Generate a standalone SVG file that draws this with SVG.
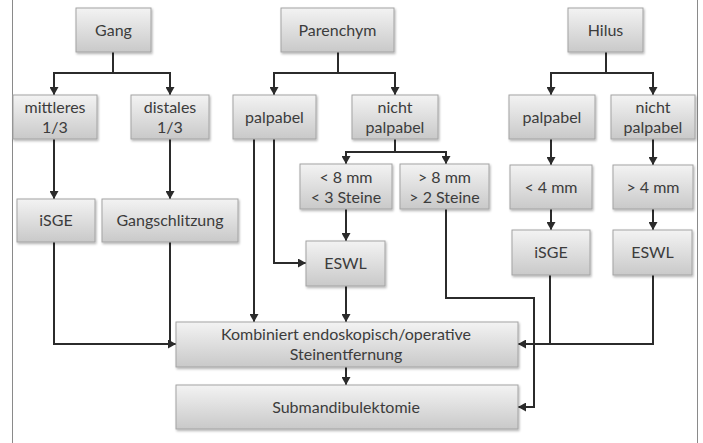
<svg xmlns="http://www.w3.org/2000/svg" width="703" height="443" viewBox="0 0 703 443">
<defs>
<linearGradient id="g" x1="0" y1="0" x2="0" y2="1">
<stop offset="0" stop-color="#f3f3f3"/>
<stop offset="1" stop-color="#c9c9c9"/>
</linearGradient>
<filter id="sh" x="-10%" y="-10%" width="130%" height="140%">
<feDropShadow dx="1" dy="1.5" stdDeviation="1" flood-color="#000" flood-opacity="0.3"/>
</filter>
<marker id="ar" markerUnits="userSpaceOnUse" markerWidth="9" markerHeight="9" refX="8" refY="4.5" orient="auto">
<path d="M0,0 L8,4.5 L0,9 z" fill="#2b2b2b"/>
</marker>
<style>
.b{fill:url(#g);stroke:#a3a3a3;stroke-width:1;filter:url(#sh)}
.t{font-family:Lato,"Open Sans","Liberation Sans",sans-serif;font-size:16px;fill:#3c3c3c;text-anchor:middle}
.c path{fill:none;stroke:#2b2b2b;stroke-width:2}
.c path.a{marker-end:url(#ar)}
.fr{stroke:#8a8a8a;stroke-width:1}
</style>
</defs>
<rect width="703" height="443" fill="#fff"/>
<line class="fr" x1="12.5" y1="0" x2="12.5" y2="443"/>
<line class="fr" x1="697.5" y1="0" x2="697.5" y2="443"/>

<g class="c" id="connectors">
<path class="a" d="M113,52 V73 H54 V95"/>
<path class="a" d="M113,73 H170 V95"/>
<path class="a" d="M338,52 V73 H274 V95"/>
<path class="a" d="M338,73 H395 V95"/>
<path class="a" d="M606,52 V73 H551 V95"/>
<path class="a" d="M606,73 H653 V95"/>
<path class="a" d="M395,139 V152 H346 V164"/>
<path class="a" d="M395,152 H446 V164"/>
<path class="a" d="M54,139 V199"/>
<path class="a" d="M170,139 V199"/>
<path class="a" d="M346,209 V241"/>
<path class="a" d="M274,139 V263 H306"/>
<path class="a" d="M254,139 V322"/>
<path class="a" d="M346,286 V322"/>
<path class="a" d="M54,242 V344 H176"/>
<path d="M170,242 V344"/>
<path class="a" d="M446,209 V298 H534 V407 H518"/>
<path class="a" d="M551,139 V165"/>
<path class="a" d="M551,209 V230"/>
<path class="a" d="M653,139 V165"/>
<path class="a" d="M653,209 V230"/>
<path d="M550,275 V344"/>
<path class="a" d="M653,275 V344 H518"/>
<path class="a" d="M346,367 V385"/>
</g>

<g id="gang"><rect class="b" x="76" y="8" width="75" height="44"/><text class="t" x="113.5" y="36">Gang</text></g>
<g id="parenchym"><rect class="b" x="281" y="8" width="113" height="44"/><text class="t" x="337.5" y="36">Parenchym</text></g>
<g id="hilus"><rect class="b" x="568" y="8" width="75" height="44"/><text class="t" x="605.5" y="36">Hilus</text></g>

<g id="mittleres"><rect class="b" x="13" y="95" width="84" height="44"/><text class="t" x="55" y="113">mittleres</text><text class="t" x="55" y="133">1/3</text></g>
<g id="distales"><rect class="b" x="131" y="95" width="78" height="44"/><text class="t" x="170" y="113">distales</text><text class="t" x="170" y="133">1/3</text></g>
<g id="palpabel1"><rect class="b" x="233" y="95" width="83" height="44"/><text class="t" x="274.5" y="123">palpabel</text></g>
<g id="nichtpalpabel1"><rect class="b" x="352" y="95" width="86" height="44"/><text class="t" x="395" y="113">nicht</text><text class="t" x="395" y="133">palpabel</text></g>
<g id="palpabel2"><rect class="b" x="509" y="95" width="86" height="44"/><text class="t" x="552" y="123">palpabel</text></g>
<g id="nichtpalpabel2"><rect class="b" x="611" y="95" width="84" height="44"/><text class="t" x="653" y="113">nicht</text><text class="t" x="653" y="133">palpabel</text></g>

<g id="lt8"><rect class="b" x="300" y="164" width="92" height="45"/><text class="t" x="346" y="183">&lt; 8 mm</text><text class="t" x="346" y="203">&lt; 3 Steine</text></g>
<g id="gt8"><rect class="b" x="400" y="164" width="89" height="45"/><text class="t" x="444.5" y="183">&gt; 8 mm</text><text class="t" x="444.5" y="203">&gt; 2 Steine</text></g>
<g id="lt4"><rect class="b" x="510" y="165" width="82" height="44"/><text class="t" x="551" y="193">&lt; 4 mm</text></g>
<g id="gt4"><rect class="b" x="613" y="165" width="80" height="44"/><text class="t" x="653" y="193">&gt; 4 mm</text></g>

<g id="isge1"><rect class="b" x="17" y="199" width="78" height="43"/><text class="t" x="56" y="226">iSGE</text></g>
<g id="gangschlitzung"><rect class="b" x="102" y="199" width="136" height="43"/><text class="t" x="170" y="226">Gangschlitzung</text></g>
<g id="eswl1"><rect class="b" x="306" y="241" width="79" height="45"/><text class="t" x="345.5" y="269">ESWL</text></g>
<g id="isge2"><rect class="b" x="512" y="230" width="78" height="45"/><text class="t" x="551" y="258">iSGE</text></g>
<g id="eswl2"><rect class="b" x="613" y="230" width="79" height="45"/><text class="t" x="652.5" y="258">ESWL</text></g>

<g id="kombiniert"><rect class="b" x="176" y="322" width="342" height="45"/><text class="t" x="346" y="340">Kombiniert endoskopisch/operative</text><text class="t" x="346" y="360">Steinentfernung</text></g>
<g id="submandibulektomie"><rect class="b" x="176" y="385" width="342" height="44"/><text class="t" x="346" y="413">Submandibulektomie</text></g>
</svg>
